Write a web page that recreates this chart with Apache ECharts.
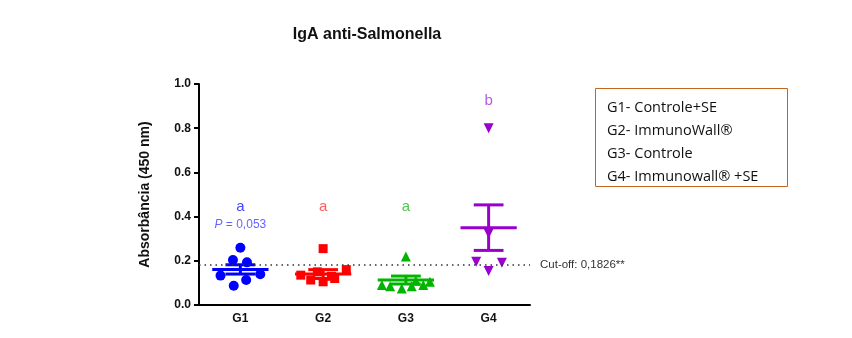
<!DOCTYPE html>
<html>
<head>
<meta charset="utf-8">
<script src="https://cdn.jsdelivr.net/npm/echarts@6/dist/echarts.min.js"></script>
<style>html,body{margin:0;padding:0;background:#fff}#c{width:852px;height:338px}</style>
</head>
<body>
<div id="c"></div>
<script>
// ---- data ----
const groups = ['G1', 'G2', 'G3', 'G4'];
const yTicks = [0, 0.2, 0.4, 0.6, 0.8, 1.0];
const g1Values = [0.259, 0.204, 0.193, 0.133, 0.087, 0.113, 0.139];
const g1Jitter = [0, -0.09, 0.08, -0.24, -0.08, 0.07, 0.24];
const g2Values = [0.255, 0.160, 0.135, 0.113, 0.105, 0.120, 0.150, 0.130];
const g2Jitter = [0, 0.28, -0.27, -0.15, 0, 0.14, -0.07, 0.10];
const g3Values = [0.220, 0.090, 0.085, 0.075, 0.085, 0.090, 0.105, 0.110];
const g3Jitter = [0, -0.29, -0.19, -0.05, 0.07, 0.21, 0.29, 0.12];
const g4Values = [0.800, 0.324, 0.196, 0.154, 0.191];
const g4Jitter = [0, 0, -0.15, 0, 0.16];
const means = [0.161, 0.140, 0.113, 0.350];
const sems = [0.021, 0.020, 0.018, 0.103];
const letters = ['a', 'a', 'a', 'b'];
const letterY = [0.445, 0.445, 0.445, 0.925];
const pLabelValue = '0,053';
const pLabelY = 0.362;
const cutoff = 0.1826;
const cutoffLabel = 'Cut-off: 0,1826**';
const legendLines = ['G1- Controle+SE', 'G2- ImmunoWall\u00ae', 'G3- Controle', 'G4- Immunowall\u00ae +SE'];

const colors = ['#0000ff', '#ff0000', '#00b400', '#9900cc'];
const letterColors = ['#1414ff', '#ff3333', '#22b822', '#a033dd'];
const symbols = ['circle', 'rect', 'triangle', 'triangle'];
const rotations = [0, 0, 0, 180];
const allValues = [g1Values, g2Values, g3Values, g4Values];
const allJitter = [g1Jitter, g2Jitter, g3Jitter, g4Jitter];
const FONT = 'Liberation Sans, Arial, sans-serif';

const chart = echarts.init(document.getElementById('c'));

const series = [];
allValues.forEach(function (vals, gi) {
  series.push({
    type: 'scatter', xAxisIndex: 1, yAxisIndex: 0,
    symbol: symbols[gi], symbolRotate: rotations[gi],
    symbolSize: gi === 1 ? 9 : 10,
    itemStyle: { color: colors[gi], opacity: 1 },
    data: vals.map(function (v, i) { return [gi + 1 + allJitter[gi][i], v]; }),
    z: 3, silent: true, animation: false
  });
});

// mean +/- SEM
series.push({
  type: 'custom', xAxisIndex: 1, yAxisIndex: 0, z: 4, animation: false, silent: true,
  data: means.map(function (m, i) { return [i + 1, m, sems[i], i]; }),
  renderItem: function (params, api) {
    const x = api.value(0), m = api.value(1), s = api.value(2), gi = api.value(3);
    const col = colors[gi];
    const st = { stroke: col, lineWidth: 3 };
    const mw = 0.34, cw = 0.18;
    const pMl = api.coord([x - mw, m]), pMr = api.coord([x + mw, m]);
    const pTop = api.coord([x, m + s]), pBot = api.coord([x, m - s]);
    const cTl = api.coord([x - cw, m + s]), cTr = api.coord([x + cw, m + s]);
    const cBl = api.coord([x - cw, m - s]), cBr = api.coord([x + cw, m - s]);
    return {
      type: 'group',
      children: [
        { type: 'line', shape: { x1: pMl[0], y1: pMl[1], x2: pMr[0], y2: pMr[1] }, style: st },
        { type: 'line', shape: { x1: pTop[0], y1: pTop[1], x2: pBot[0], y2: pBot[1] }, style: st },
        { type: 'line', shape: { x1: cTl[0], y1: cTl[1], x2: cTr[0], y2: cTr[1] }, style: st },
        { type: 'line', shape: { x1: cBl[0], y1: cBl[1], x2: cBr[0], y2: cBr[1] }, style: st }
      ]
    };
  }
});

// letters
series.push({
  type: 'scatter', xAxisIndex: 1, yAxisIndex: 0, symbolSize: 0, silent: true, animation: false,
  data: letters.map(function (l, i) {
    return {
      value: [i + 1, letterY[i]],
      label: { show: true, formatter: l, position: 'inside', color: letterColors[i],
        fontSize: 15, fontFamily: FONT }
    };
  })
});
// P label
series.push({
  type: 'scatter', xAxisIndex: 1, yAxisIndex: 0, symbolSize: 0, silent: true, animation: false,
  data: [{
    value: [1, pLabelY],
    label: { show: true, position: 'inside',
      formatter: '{i|P} = ' + pLabelValue,
      color: '#3d3dff', fontSize: 12, fontFamily: FONT,
      rich: { i: { fontStyle: 'italic', color: '#3d3dff', fontSize: 12, fontFamily: FONT } } }
  }]
});
// cutoff line
series.push({
  type: 'line', xAxisIndex: 0, yAxisIndex: 0, data: [], silent: true, animation: false,
  markLine: {
    symbol: 'none', silent: true, animation: false,
    lineStyle: { type: [1.5, 4], color: '#333', width: 1.6 },
    label: { show: true, position: 'end', formatter: cutoffLabel, color: '#333', fontSize: 11.5,
      distance: 10, fontFamily: FONT },
    data: [{ yAxis: cutoff }]
  }
});

const option = {
  backgroundColor: '#ffffff',
  animation: false,
  title: {
    text: 'IgA anti-Salmonella', left: 362, top: 22, textAlign: 'center',
    textStyle: { fontSize: 16, fontWeight: 'bold', color: '#111', fontFamily: FONT }
  },
  grid: { left: 199, right: 322, top: 84, bottom: 33 },
  xAxis: [
    {
      type: 'category', data: groups, boundaryGap: true,
      axisLine: { lineStyle: { color: '#000', width: 2 } },
      axisTick: { alignWithLabel: true, length: 5, lineStyle: { color: '#000', width: 2 } },
      axisLabel: { color: '#111', fontWeight: 'bold', fontSize: 12, margin: 8, fontFamily: FONT }
    },
    { type: 'value', min: 0.5, max: 4.5, show: false }
  ],
  yAxis: {
    type: 'value', min: yTicks[0], max: yTicks[yTicks.length - 1], interval: 0.2,
    name: 'Absorbância (450 nm)', nameLocation: 'middle', nameGap: 47,
    nameTextStyle: { fontSize: 14, fontWeight: 'bold', color: '#111', fontFamily: FONT },
    axisLine: { show: true, lineStyle: { color: '#000', width: 2 } },
    axisTick: { show: true, length: 5, lineStyle: { color: '#000', width: 2 } },
    splitLine: { show: false },
    axisLabel: { color: '#111', fontWeight: 'bold', fontSize: 12, margin: 8, fontFamily: FONT,
      formatter: function (v) { return v.toFixed(1); } }
  },
  graphic: [
    { type: 'rect', shape: { x: 595.5, y: 88.5, width: 192, height: 98 },
      style: { fill: '#fff', stroke: '#c0661f', lineWidth: 1 } },
    { type: 'text', left: 607, top: 96,
      style: { text: legendLines.join('\n'), fontSize: 14.5, lineHeight: 23, fill: '#111',
        fontFamily: 'Open Sans, Noto Sans, sans-serif' } }
  ],
  series: series
};
chart.setOption(option);
</script>
</body>
</html>
